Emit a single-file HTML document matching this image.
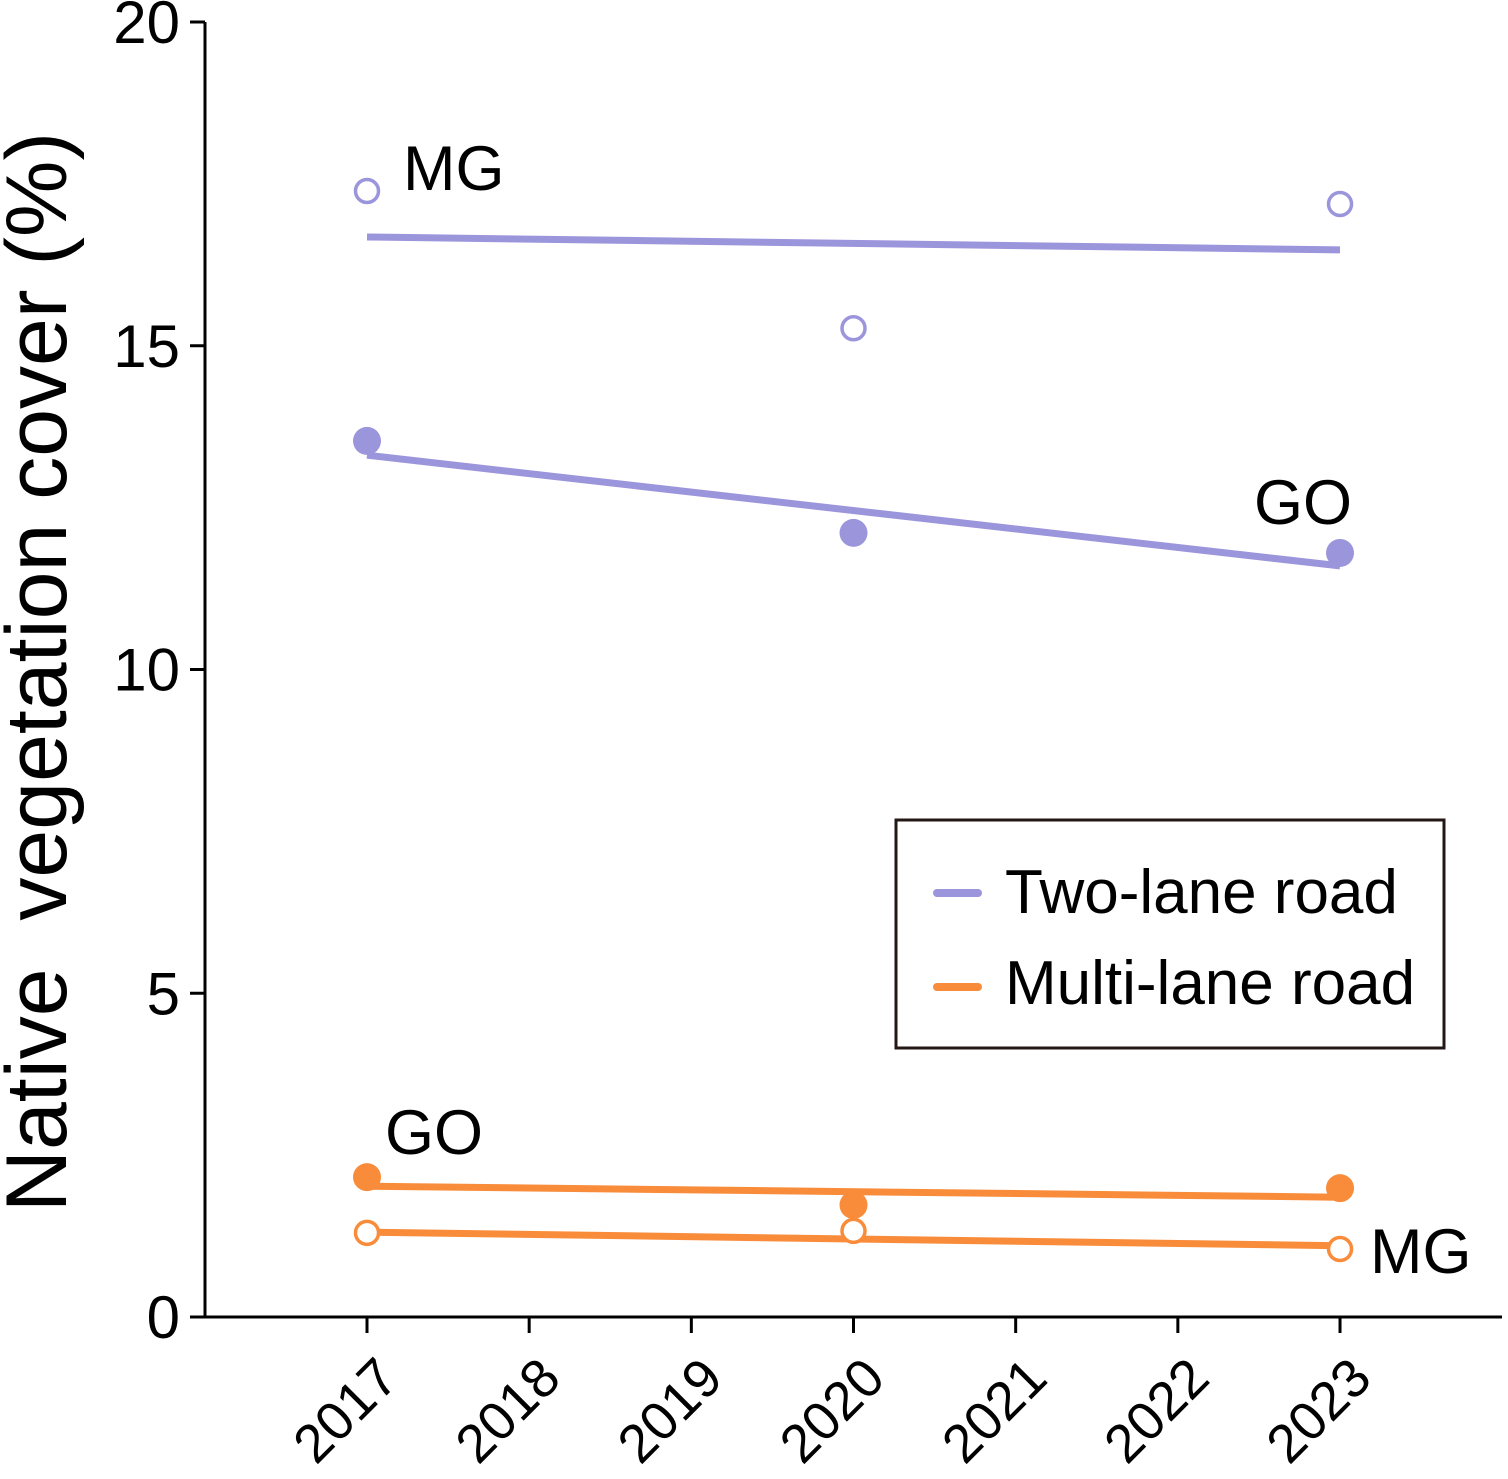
<!DOCTYPE html>
<html><head><meta charset="utf-8"><style>
body{margin:0;background:#fff}
svg{display:block;font-family:"Liberation Sans",Arial,sans-serif}
</style></head><body>
<svg id="chart" width="1508" height="1479" viewBox="0 0 1508 1479">
<g id="axes"></g><g id="marks"></g>
<g>
<rect x="896" y="820" width="548" height="228" fill="#fff" stroke="#231815" stroke-width="3"/>
<line x1="937" y1="893" x2="978" y2="893" stroke="#9b95dc" stroke-width="8" stroke-linecap="round"/>
<text x="1005" y="913" font-size="62" fill="#000">Two-lane road</text>
<line x1="937" y1="987" x2="978" y2="987" stroke="#f98c3a" stroke-width="8" stroke-linecap="round"/>
<text x="1005" y="1004" font-size="62" fill="#000">Multi-lane road</text>
</g>
<text transform="translate(66,672) rotate(-90)" text-anchor="middle" font-size="86" fill="#000" xml:space="preserve">Native  vegetation cover (%)</text>
</svg>
<script>
const years=[2017,2018,2019,2020,2021,2022,2023];
const yTicks=[0,5,10,15,20];
const obsYears=[2017,2020,2023];
const twoMG=[17.39,15.27,17.19];
const twoGO=[13.53,12.11,11.80];
const multiGO=[2.16,1.73,1.99];
const multiMG=[1.30,1.33,1.05];
const trendTwoMG=[16.68,16.48];
const trendTwoGO=[13.31,11.60];
const trendMultiGO=[2.02,1.85];
const trendMultiMG=[1.31,1.10];
const trendYears=[2017,2023];

const NS="http://www.w3.org/2000/svg";
const X=v=>367+(v-2017)*162.17;
const Y=v=>1317-v*64.75;
const PURPLE="#9b95dc",ORANGE="#f98c3a";
const axes=document.getElementById('axes'),marks=document.getElementById('marks');
function mk(tag,attrs,parent){const e=document.createElementNS(NS,tag);for(const k in attrs)e.setAttribute(k,attrs[k]);parent.appendChild(e);return e;}

let e=mk('line',{x1:205,y1:Y(0),x2:205,y2:Y(20),stroke:'#000','stroke-width':3},axes);


e=mk('line',{x1:204,y1:Y(0),x2:1502,y2:Y(0),stroke:'#000','stroke-width':3},axes);


yTicks.forEach(t=>{
  let l=mk('line',{x1:190,y1:Y(t),x2:205,y2:Y(t),stroke:'#000','stroke-width':3},axes);
  
  
  let tx=mk('text',{x:180,y:Y(t)+21,'text-anchor':'end','font-size':60},axes);
  tx.textContent=t;
  
  
});
years.forEach(yr=>{
  let l=mk('line',{x1:X(yr),y1:Y(0),x2:X(yr),y2:Y(0)+16,stroke:'#000','stroke-width':3},axes);
  
  
  let tx=mk('text',{transform:`translate(${X(yr)+34},${Y(0)+64}) rotate(-45)`,'text-anchor':'end','font-size':54},axes);
  tx.textContent=yr;
  
  
});
function trend(vals,col,name){
  let l=mk('line',{x1:X(trendYears[0]),y1:Y(vals[0]),x2:X(trendYears[1]),y2:Y(vals[1]),stroke:col,'stroke-width':7},marks);
  
  
}
function pts(vals,col,filled,name){
  vals.forEach((v,i)=>{
    let c=filled?mk('circle',{cx:X(obsYears[i]),cy:Y(v),r:14,fill:col},marks)
      :mk('circle',{cx:X(obsYears[i]),cy:Y(v),r:11.5,fill:'#fff',stroke:col,'stroke-width':3.5},marks);
    
    
  });
}
trend(trendTwoMG,PURPLE,'two-lane-mg-trend');
trend(trendTwoGO,PURPLE,'two-lane-go-trend');
trend(trendMultiGO,ORANGE,'multi-lane-go-trend');
trend(trendMultiMG,ORANGE,'multi-lane-mg-trend');
pts(twoMG,PURPLE,false,'two-lane-mg-point');
pts(twoGO,PURPLE,true,'two-lane-go-point');
pts(multiGO,ORANGE,true,'multi-lane-go-point');
pts(multiMG,ORANGE,false,'multi-lane-mg-point');
[['MG',403,190,'label-two-lane-mg'],['GO',1254,524,'label-two-lane-go'],['GO',385,1154,'label-multi-lane-go'],['MG',1370,1273,'label-multi-lane-mg']].forEach(a=>{
  let t=mk('text',{x:a[1],y:a[2],'font-size':63},marks);
  t.textContent=a[0];
  
  
});
</script>
</body></html>
